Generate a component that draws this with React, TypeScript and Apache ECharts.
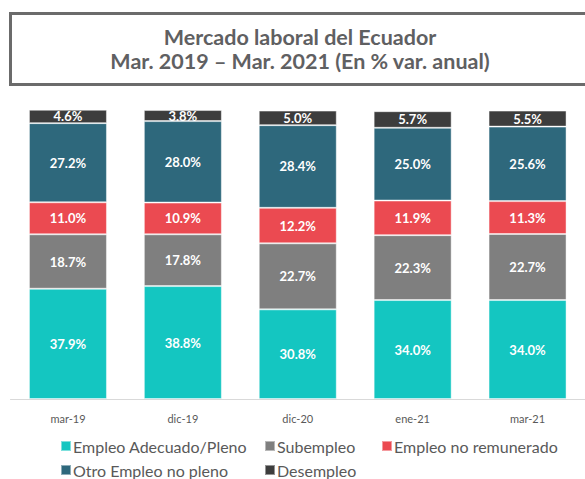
import React, { useEffect, useRef } from "react";
import * as echarts from "echarts";

const categories = ["mar-19", "dic-19", "dic-20", "ene-21", "mar-21"];
const seriesNames = [
  "Empleo Adecuado/Pleno",
  "Subempleo",
  "Empleo no remunerado",
  "Otro Empleo no pleno",
  "Desempleo",
];
const adecuado = [37.9, 38.8, 30.8, 34.0, 34.0];
const subempleo = [18.7, 17.8, 22.7, 22.3, 22.7];
const noRemunerado = [11.0, 10.9, 12.2, 11.9, 11.3];
const otroNoPleno = [27.2, 28.0, 28.4, 25.0, 25.6];
const desempleo = [4.6, 3.8, 5.0, 5.7, 5.5];
const colors = ["#14C6C1", "#7F7F7F", "#EB4A51", "#2E687C", "#3D3D3D"];
const titleLines = ["Mercado laboral del Ecuador", "Mar. 2019 – Mar. 2021 (En % var. anual)"];

export default function App() {
  const ref = useRef<HTMLDivElement>(null);
  useEffect(() => {
    if (!ref.current) return;
    const chart = echarts.init(ref.current, null, { renderer: "svg" });
    const values = [adecuado, subempleo, noRemunerado, otroNoPleno, desempleo];
    const legendPos = [
      { left: 60, top: 438 },
      { left: 264, top: 438 },
      { left: 381, top: 438 },
      { left: 60, top: 462 },
      { left: 264, top: 462 },
    ];
    chart.setOption({
      animation: false,
      textStyle: { fontFamily: "Lato" },
      graphic: [
        {
          type: "rect",
          shape: { x: 10.5, y: 13.5, width: 600, height: 71 },
          style: { fill: "#fff", stroke: "#6b6b6b", lineWidth: 3 },
        },
        {
          type: "text",
          x: 300,
          y: 37,
          style: {
            text: titleLines[0],
            font: "bold 21.5px Lato",
            fill: "#5f6062",
            textAlign: "center",
            textVerticalAlign: "middle",
          },
        },
        {
          type: "text",
          x: 300,
          y: 61,
          style: {
            text: titleLines[1],
            font: "bold 21.5px Lato",
            fill: "#5f6062",
            textAlign: "center",
            textVerticalAlign: "middle",
          },
        },
      ],
      legend: seriesNames.map((name, i) => ({
        data: [name],
        left: legendPos[i].left,
        top: legendPos[i].top,
        padding: 0,
        icon: "rect",
        itemWidth: 10,
        itemHeight: 10,
        itemGap: 0,
        textStyle: { fontSize: 16, color: "#595959", fontFamily: "Lato", padding: [0, 0, 0, -3] },
      })),
      grid: { left: 10.5, width: 585, top: 108, height: 291 },
      xAxis: {
        type: "category",
        data: categories,
        axisLine: { lineStyle: { color: "#d9d9d9", width: 1 } },
        axisTick: { show: false },
        axisLabel: { color: "#595959", fontSize: 11, margin: 14, fontFamily: "Lato" },
      },
      yAxis: { type: "value", min: 0, max: 100, show: false, splitLine: { show: false } },
      series: seriesNames.map((name, i) => ({
        name,
        type: "bar",
        stack: "total",
        barWidth: 78,
        data: values[i],
        itemStyle: { color: colors[i], borderColor: "rgba(255,255,255,0.45)", borderWidth: 1 },
        label: {
          show: true,
          position: "inside",
          color: "#fff",
          fontWeight: "bold",
          fontSize: 13,
          fontFamily: "Lato",
          formatter: (p: any) => p.value.toFixed(1) + "%",
        },
      })),
    });
    return () => chart.dispose();
  }, []);
  return (
    <div
      ref={ref}
      style={{ position: "absolute", left: 0, top: 0, width: 585, height: 479 }}
    />
  );
}
